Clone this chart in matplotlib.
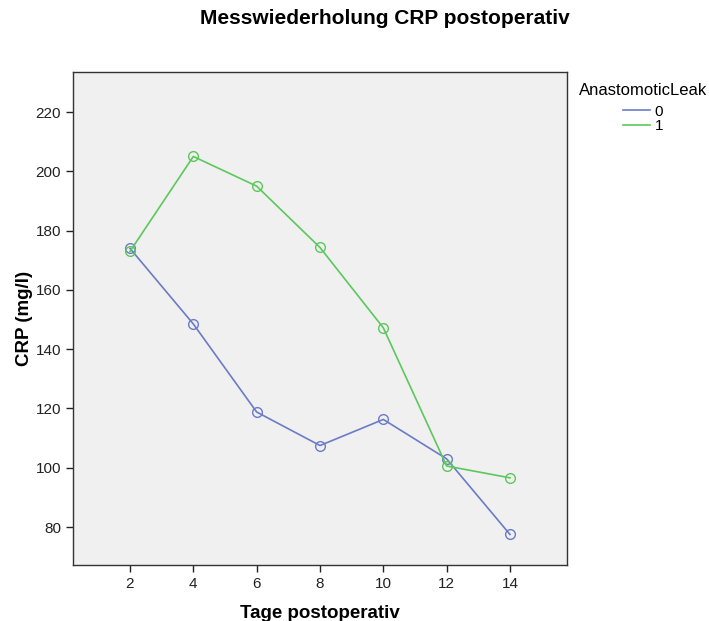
import matplotlib
matplotlib.use("Agg")
import matplotlib.pyplot as plt
from matplotlib.lines import Line2D

plt.rcParams['font.family'] = ['Liberation Sans', 'DejaVu Sans']

days = [2, 4, 6, 8, 10, 12, 14]
leak0 = [174.0, 148.5, 118.8, 107.5, 116.3, 103.0, 77.5]
leak1 = [173.0, 205.0, 195.0, 174.3, 147.2, 100.6, 96.6]
xticks = [2, 4, 6, 8, 10, 12, 14]
yticks = [80, 100, 120, 140, 160, 180, 200, 220]

c0 = '#6B7BC6'
c1 = '#5CC85C'

fig = plt.figure(figsize=(7.09, 6.21), dpi=100)
ax = fig.add_axes([73/709, 1-565/621, (567-73)/709, (565-72)/621])
ax.set_facecolor('#F0F0F0')

ax.plot(days, leak0, color=c0, lw=1.2, marker='o', ms=7, mfc='none', mec=c0, mew=1.0)
ax.plot(days, leak1, color=c1, lw=1.2, marker='o', ms=7, mfc='none', mec=c1, mew=1.0)

ax.set_xlim(0.2, 15.8)
ax.set_ylim(67.2, 233.5)
ax.set_xticks(xticks)
ax.set_yticks(yticks)
ax.tick_params(direction='out', length=5, width=1, labelsize=11, colors='#222222')
for s in ax.spines.values():
    s.set_color('#333333')
    s.set_linewidth(1.0)

ax.set_xlabel('Tage postoperativ', fontsize=13.5, fontweight='bold', labelpad=10)
ax.set_ylabel('CRP (mg/l)', fontsize=13.5, fontweight='bold', labelpad=2)

fig.text(385/709, 1-18/621, 'Messwiederholung CRP postoperativ', ha='center', va='center',
         fontsize=15, fontweight='bold')

handles = [Line2D([], [], color=c0, lw=1.2), Line2D([], [], color=c1, lw=1.2)]
leg = fig.legend(handles, ['0', '1'], title='AnastomoticLeak', loc='upper left',
                 bbox_to_anchor=(568/709, 1-72/621), frameon=False, fontsize=11,
                 title_fontsize=12, handlelength=1.8, handletextpad=0.3,
                 labelspacing=0.05, borderpad=0.2)
leg._legend_box.sep = 5
leg._legend_box.align = 'center'

fig.savefig('out.png', dpi=100)
